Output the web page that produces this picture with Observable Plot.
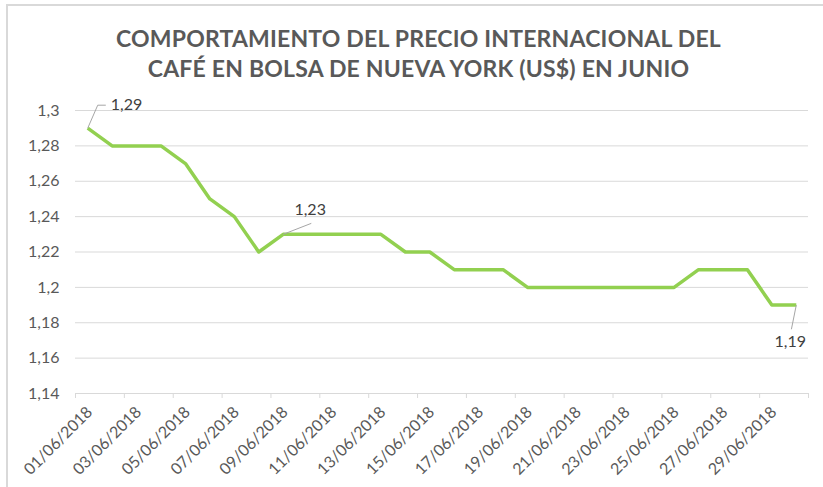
<!DOCTYPE html>
<html><head><meta charset="utf-8">
<script src="https://cdn.jsdelivr.net/npm/d3@7"></script>
<script src="https://cdn.jsdelivr.net/npm/@observablehq/plot@0.6"></script>
<style>
body{margin:0;background:#fff;}
#wrap{position:relative;width:823px;height:487px;overflow:hidden;font-family:Lato,sans-serif;background:#fff;}
#frame{position:absolute;left:6px;top:4px;width:900px;height:600px;border-top:2px solid #d9d9d9;border-left:2px solid #d9d9d9;box-sizing:border-box;}
#title{position:absolute;left:14px;top:23px;width:809px;text-align:center;font-weight:bold;font-size:23px;letter-spacing:0.2px;line-height:30px;color:#595959;}
#chart{position:absolute;left:0;top:0;}
</style></head><body>
<div id="wrap"><div id="frame"></div><div id="chart"></div><div id="title">COMPORTAMIENTO DEL PRECIO INTERNACIONAL DEL<br>CAFÉ EN BOLSA DE NUEVA YORK (US$) EN JUNIO</div></div>
<script>
const dates = ["01/06/2018","02/06/2018","03/06/2018","04/06/2018","05/06/2018","06/06/2018","07/06/2018","08/06/2018","09/06/2018","10/06/2018",
  "11/06/2018","12/06/2018","13/06/2018","14/06/2018","15/06/2018","16/06/2018","17/06/2018","18/06/2018","19/06/2018","20/06/2018",
  "21/06/2018","22/06/2018","23/06/2018","24/06/2018","25/06/2018","26/06/2018","27/06/2018","28/06/2018","29/06/2018","30/06/2018"];
const prices = [1.29,1.28,1.28,1.28,1.27,1.25,1.24,1.22,1.23,1.23,
  1.23,1.23,1.23,1.22,1.22,1.21,1.21,1.21,1.20,1.20,
  1.20,1.20,1.20,1.20,1.20,1.21,1.21,1.21,1.19,1.19];
const yTicks = [1.14,1.16,1.18,1.20,1.22,1.24,1.26,1.28,1.30];
const labelIdx = [0, 8, 29];

const fmt = v => String(+v.toFixed(2)).replace(".", ",");
const idx = dates.map((d, i) => i);
const labelTickIdx = idx.filter(i => i % 2 === 0);
const boundaries = d3.range(-0.5, dates.length, 2);

// leader/label placement (in data units relative to the point)
const leaders = [
  {i: 0, pts: [[0,0],[0.41,0.013],[0.74,0.013]], dx: 23, dy: -23, anchor: "start"},
  {i: 8, pts: [[0,0],[1.15,0.0062]], dx: 27, dy: -24, anchor: "middle"},
  {i: 29, pts: [[0,0],[-0.2,-0.0137]], dx: -6, dy: 37, anchor: "middle"}
];
const leaderSegs = [];
leaders.forEach(l => {
  for (let k = 0; k < l.pts.length - 1; k++) {
    leaderSegs.push({i: l.i, a: l.pts[k], b: l.pts[k+1]});
  }
});

const chart = Plot.plot({
  width: 823,
  height: 487,
  marginLeft: 75,
  marginRight: 15,
  marginTop: 110,
  marginBottom: 94,
  style: {fontFamily: "Lato, sans-serif", background: "transparent", overflow: "visible"},
  x: {type: "linear", domain: [-0.5, dates.length - 0.5], axis: null},
  y: {domain: [1.14, 1.30], axis: null},
  marks: [
    Plot.ruleY(yTicks, {stroke: "#d9d9d9", strokeWidth: 1}),
    Plot.axisY({ticks: yTicks, tickSize: 0, tickPadding: 16, tickFormat: fmt, fontSize: 16, color: "#595959", fill: "#595959"}),
    Plot.axisX({ticks: boundaries, tickSize: 5, tickFormat: () => "", stroke: "#d9d9d9", strokeOpacity: 1}),
    Plot.text(labelTickIdx, {x: d => d, y: () => 1.14, text: d => dates[d], rotate: -45, textAnchor: "end", lineAnchor: "middle", dx: 2, dy: 16, fontSize: 16, fill: "#595959"}),
    Plot.line(prices, {x: (d, i) => i, y: d => d, stroke: "#92d050", strokeWidth: 3.5, strokeLinejoin: "round", strokeLinecap: "butt"}),
    Plot.link(leaderSegs, {x1: d => d.i + d.a[0], y1: d => prices[d.i] + d.a[1], x2: d => d.i + d.b[0], y2: d => prices[d.i] + d.b[1], stroke: "#a6a6a6", strokeWidth: 1}),
    ...leaders.map(l => Plot.text([l.i], {x: d => d, y: d => prices[d], text: d => fmt(prices[d]), dx: l.dx, dy: l.dy, textAnchor: l.anchor, fontSize: 16, fill: "#404040"}))
  ]
});
document.getElementById("chart").appendChild(chart);
</script>
</body></html>
